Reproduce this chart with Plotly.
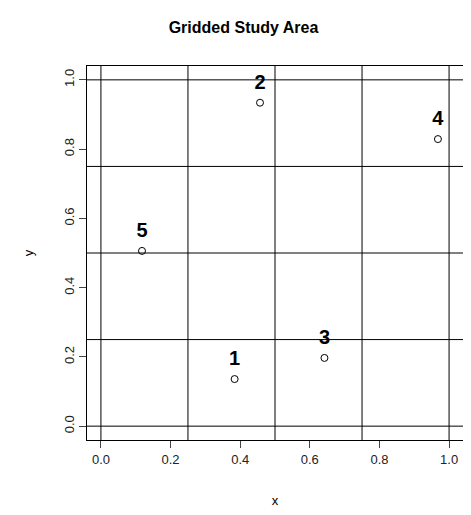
import plotly.graph_objects as go

px_ = [0.384, 0.457, 0.642, 0.968, 0.118]
py_ = [0.136, 0.934, 0.197, 0.829, 0.506]
labels = ["1", "2", "3", "4", "5"]
grid = [0, 0.25, 0.5, 0.75, 1]
ticks = [0, 0.2, 0.4, 0.6, 0.8, 1.0]
tick_text = ["0.0", "0.2", "0.4", "0.6", "0.8", "1.0"]

fig = go.Figure()
fig.add_trace(go.Scatter(x=px_, y=py_, mode="markers",
                         marker=dict(symbol="circle-open", color="black", size=7, line=dict(width=1)),
                         hoverinfo="skip"))
fig.add_trace(go.Scatter(x=px_, y=[v + 0.055 for v in py_], mode="text", text=labels,
                         textfont=dict(size=20, color="black", family="Liberation Sans", weight="bold"),
                         hoverinfo="skip"))
for g in grid:
    fig.add_vline(x=g, line=dict(color="black", width=1))
    fig.add_hline(y=g, line=dict(color="black", width=1))

axis = dict(range=[-0.04, 1.04], tickvals=ticks, ticktext=tick_text, showgrid=False, zeroline=False,
            ticks="outside", ticklen=7, showline=True, mirror=True, linecolor="black",
            tickfont=dict(size=13, color="#222"), automargin=False)
fig.update_xaxes(**axis, title=dict(text="x", font=dict(size=13), standoff=30))
fig.update_yaxes(**axis, tickangle=-90, title=dict(text="y", font=dict(size=13), standoff=25))
fig.update_layout(
    width=471, height=515, showlegend=False, plot_bgcolor="white", paper_bgcolor="white",
    font=dict(family="Liberation Sans", color="black"),
    margin=dict(l=79, r=16, t=58, b=83, autoexpand=False),
    title=dict(text="<b>Gridded Study Area</b>", x=0.5, xanchor="center", y=0.962, yanchor="middle",
               font=dict(size=16)),
)
fig.write_html("out.html")
